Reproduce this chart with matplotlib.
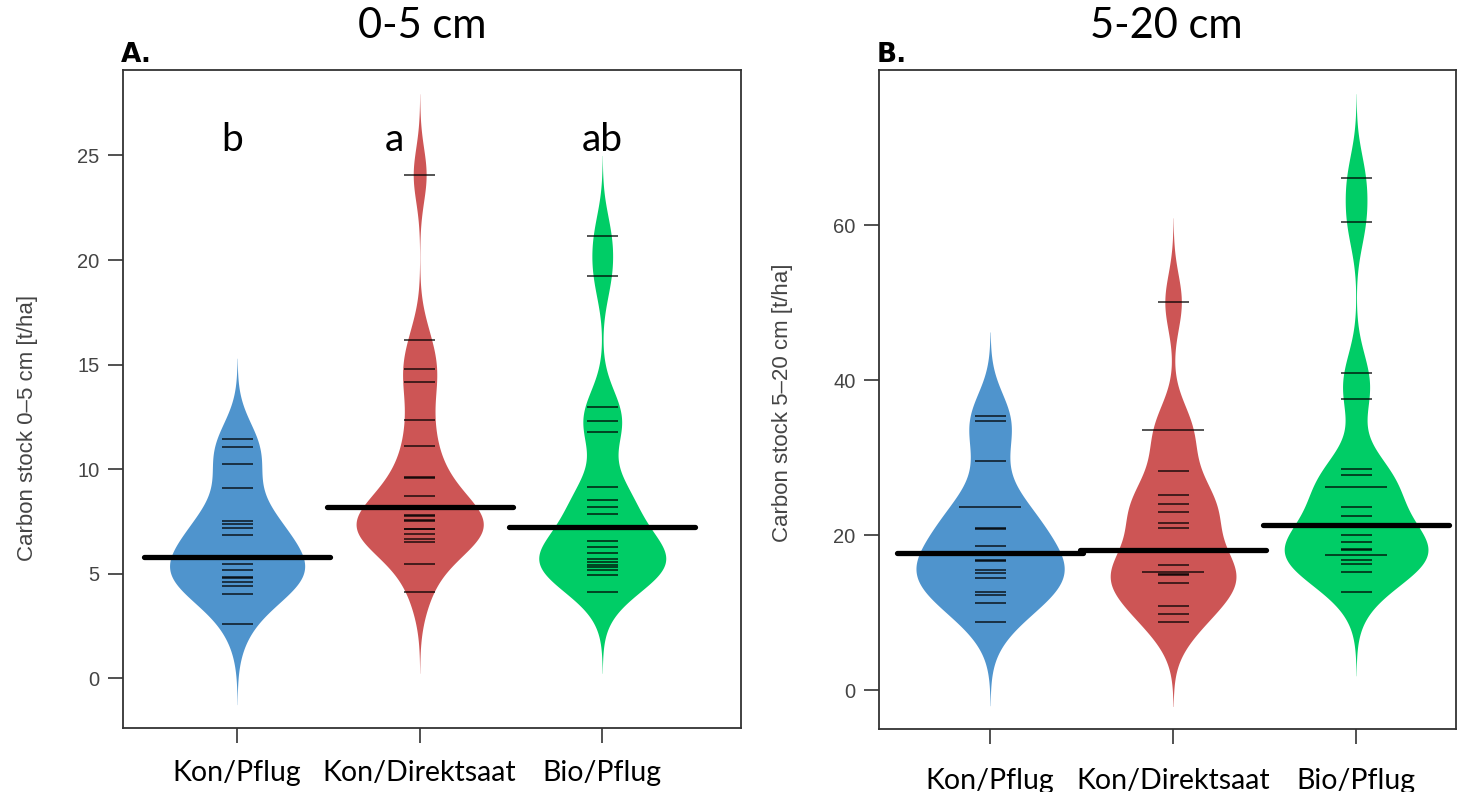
import numpy as np
import matplotlib.pyplot as plt

# groups and colours (R: steelblue3, indianred3, springgreen3)
groups = ["Kon/Pflug", "Kon/Direktsaat", "Bio/Pflug"]
colors = ["#4f94cd", "#cd5555", "#00cd66"]

# panel A: carbon stock 0-5 cm [t/ha], single observations read off the bean lines
# (two Kon/Pflug values are estimated under the thick average line)
a_kon_pflug = [11.43, 11.04, 10.25, 9.08, 7.52, 7.36, 7.18, 6.82, 5.84, 5.78, 5.47,
               5.18, 4.85, 4.80, 4.59, 4.40, 4.00, 2.60]
a_kon_direkt = [24.08, 16.19, 14.78, 14.16, 12.36, 11.11, 9.63, 9.58, 8.69, 7.78,
                7.74, 7.56, 7.53, 7.15, 7.11, 6.89, 6.64, 6.49, 5.47, 4.10]
a_bio_pflug = [21.13, 19.24, 12.99, 12.31, 11.78, 9.14, 8.50, 8.17, 7.85, 6.58,
               6.29, 5.96, 5.70, 5.57, 5.43, 5.31, 5.18, 4.94, 4.10]
a_average = [5.80, 8.18, 7.23]
a_letters = ["b", "a", "ab"]

# panel B: carbon stock 5-20 cm [t/ha]
b_kon_pflug = [35.34, 34.70, 29.61, 23.56, 23.56, 20.95, 20.80, 18.59, 16.75, 16.65,
               15.54, 15.16, 14.46, 12.70, 12.32, 11.25, 8.84]
b_kon_direkt = [50.06, 33.57, 33.57, 28.27, 25.17, 23.94, 23.03, 21.52, 20.89, 16.07,
                15.26, 15.26, 14.95, 14.85, 13.77, 10.83, 9.81, 8.74]
b_bio_pflug = [66.08, 60.35, 40.92, 37.59, 28.49, 27.69, 26.24, 26.24, 23.67, 22.39,
               19.98, 19.12, 18.15, 18.05, 17.40, 17.40, 16.77, 16.24, 15.27, 12.70]
b_average = [17.68, 18.10, 21.26]

plt.rcParams['font.family'] = ['Liberation Sans', 'DejaVu Sans']
TITLE_FONT = ['Lato', 'DejaVu Sans']


def kde(values, grid, bw):
    v = np.asarray(values)[:, None]
    d = np.exp(-0.5 * ((grid[None, :] - v) / bw) ** 2)
    return d.sum(axis=0) / (len(values) * bw * np.sqrt(2 * np.pi))


def beanplot(ax, data, averages, bw, maxhalf):
    grids, dens = [], []
    for vals in data:
        g = np.linspace(min(vals) - 3 * bw, max(vals) + 3 * bw, 400)
        grids.append(g)
        dens.append(kde(vals, g, bw))
    scale = maxhalf / max(d.max() for d in dens)
    for i, vals in enumerate(data):
        pos = i + 1
        w = dens[i] * scale
        ax.fill_betweenx(grids[i], pos - w, pos + w, color=colors[i], lw=0, zorder=2)
        uniq, counts = np.unique(vals, return_counts=True)
        for u, c in zip(uniq, counts):
            half = 0.085 * c
            ax.plot([pos - half, pos + half], [u, u], color='black', lw=1.1,
                    alpha=0.85, zorder=3, solid_capstyle='butt')
        ax.plot([pos - 0.51, pos + 0.51], [averages[i], averages[i]], color='black',
                lw=3.8, zorder=4, solid_capstyle='round')


def style_axes(ax, ylabel, yticks):
    ax.set_yticks(yticks)
    ax.set_xticks([1, 2, 3])
    ax.set_xticklabels(groups, fontsize=20.5, family=TITLE_FONT)
    ax.tick_params(axis='y', length=11, width=1.2, color='#333333', labelsize=14.5,
                   labelcolor='#444444', pad=6)
    ax.tick_params(axis='x', length=11, width=1.2, color='#333333', pad=12)
    ax.set_ylabel(ylabel, fontsize=16, color='#444444')
    for s in ax.spines.values():
        s.set_color('#333333')
        s.set_linewidth(1.3)


fig = plt.figure(figsize=(14.59, 7.92), dpi=100)

axA = fig.add_axes([123 / 1459, 64 / 792, 618 / 1459, 658 / 792])
beanplot(axA, [a_kon_pflug, a_kon_direkt, a_bio_pflug], a_average, 1.29, 0.37)
axA.set_xlim(0.375, 3.76)
axA.set_ylim(-2.39, 29.09)
style_axes(axA, "Carbon stock 0\u20135 cm [t/ha]", [0, 5, 10, 15, 20, 25])
axA.yaxis.set_label_coords(-0.137, 0.456)
for i, let in enumerate(a_letters):
    axA.text(i + 1 - 0.03 * (i == 0) - 0.14 * (i == 1), 25.75, let, ha='center',
             va='center', fontsize=28, family=TITLE_FONT)

axB = fig.add_axes([879 / 1459, 63 / 792, 577 / 1459, 659 / 792])
beanplot(axB, [b_kon_pflug, b_kon_direkt, b_bio_pflug], b_average, 3.62, 0.405)
axB.set_xlim(0.393, 3.546)
axB.set_ylim(-5.03, 80.0)
style_axes(axB, "Carbon stock 5\u201320 cm [t/ha]", [0, 20, 40, 60])
axB.yaxis.set_label_coords(-0.149, 0.495)
axB.tick_params(axis='x', pad=17)

fig.text(422 / 1459, 1 - 26 / 792, "0-5 cm", ha='center', va='center', fontsize=30,
         family=TITLE_FONT)
fig.text(1166 / 1459, 1 - 26 / 792, "5-20 cm", ha='center', va='center', fontsize=30,
         family=TITLE_FONT)
fig.text(121 / 1459, 1 - 55 / 792, "A.", ha='left', va='center', fontsize=19,
         fontweight='bold', family=['DejaVu Sans'])
fig.text(877 / 1459, 1 - 55 / 792, "B.", ha='left', va='center', fontsize=19,
         fontweight='bold', family=['DejaVu Sans'])

fig.savefig("out.png", dpi=100)
